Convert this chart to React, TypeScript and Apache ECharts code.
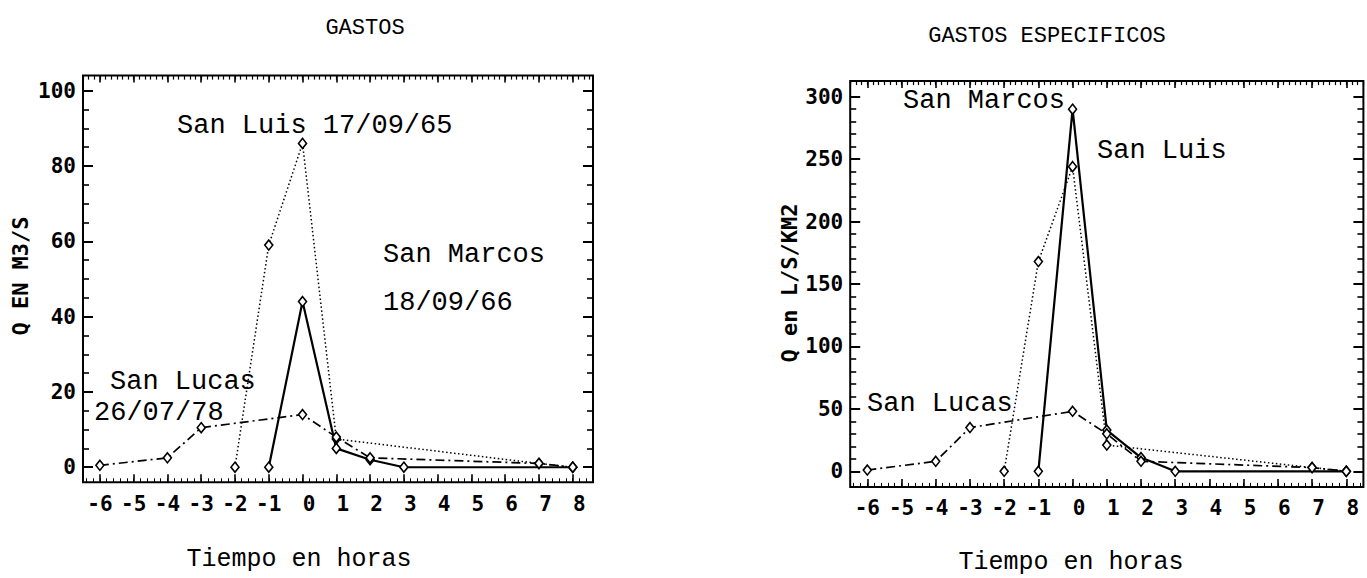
import { useEffect, useRef } from "react";
import * as echarts from "echarts";

// ---- data ----
const hours = [-6, -5, -4, -3, -2, -1, 0, 1, 2, 3, 4, 5, 6, 7, 8];
const qTicks = [0, 20, 40, 60, 80, 100];
const qsTicks = [0, 50, 100, 150, 200, 250, 300];

// GASTOS (m3/s)  [hora, Q]
const sanLuisQ = [[-2, 0], [-1, 59], [0, 86], [1, 7.5], [7, 1], [8, 0]];
const sanMarcosQ = [[-1, 0], [0, 44], [1, 5], [2, 2], [3, 0], [8, 0]];
const sanLucasQ = [[-6, 0.5], [-4, 2.5], [-3, 10.5], [0, 14], [1, 8], [2, 2.5], [7, 1], [8, 0]];

// GASTOS ESPECIFICOS (L/S/KM2)
const sanLuisQs = [[-2, 0], [-1, 168], [0, 244], [1, 21], [7, 3], [8, 0]];
const sanMarcosQs = [[-1, 0], [0, 290], [1, 33], [2, 11], [3, 0], [8, 0]];
const sanLucasQs = [[-6, 1], [-4, 8], [-3, 35], [0, 48], [1, 30], [2, 8], [7, 3], [8, 0]];

function steps(from: number, to: number, step: number) {
  const out: number[] = [];
  const n = Math.round((to - from) / step);
  for (let k = 0; k <= n; k++) out.push(Math.round((from + k * step) * 1000) / 1000);
  return out;
}

const MONO_B = "DejaVu Sans Mono";
const TXT = "Liberation Mono";
const TICK_FS = 21;

function tick(values: number[], length: number, width: number) {
  return {
    show: true,
    inside: true,
    length,
    customValues: values,
    lineStyle: { color: "#000", width },
  };
}

function xAxesFor(grid: number, min: number, max: number) {
  const base = {
    type: "value",
    gridIndex: grid,
    min,
    max,
    axisLine: { show: false, onZero: false },
    splitLine: { show: false },
  };
  return [
    {
      ...base,
      position: "bottom",
      axisTick: tick(hours, 8, 1.6),
      axisLabel: {
        show: true,
        customValues: hours,
        margin: 11,
        color: "#000",
        fontFamily: MONO_B,
        fontWeight: "bold",
        fontSize: TICK_FS,
        formatter: (v: number) => (v < 0 ? `${v}` : `{p|${v}}`),
        rich: {
          p: {
            padding: [0, 0, 0, 13],
            color: "#000",
            fontFamily: MONO_B,
            fontWeight: "bold",
            fontSize: TICK_FS,
          },
        },
      },
    },
    { ...base, position: "bottom", axisTick: tick(steps(-6.4, max, 0.2), 4, 1), axisLabel: { show: false } },
    { ...base, position: "top", axisTick: tick(hours, 7, 1.6), axisLabel: { show: false } },
    { ...base, position: "top", axisTick: tick(steps(-6.5, 8.5, 1 / 6), 4, 1.2), axisLabel: { show: false } },
  ];
}

function yAxesFor(grid: number, min: number, max: number, majors: number[], minorStep: number) {
  const base = {
    type: "value",
    gridIndex: grid,
    min,
    max,
    axisLine: { show: false, onZero: false },
    splitLine: { show: false },
  };
  const minors = steps(0, majors[majors.length - 1], minorStep);
  return [
    {
      ...base,
      position: "left",
      axisTick: tick(majors, 10, 2),
      axisLabel: {
        show: true,
        customValues: majors,
        margin: 7,
        color: "#000",
        fontFamily: MONO_B,
        fontWeight: "bold",
        fontSize: TICK_FS,
      },
    },
    { ...base, position: "left", axisTick: tick(minors, 6, 1.6), axisLabel: { show: false } },
    { ...base, position: "right", axisTick: tick(majors, 10, 2), axisLabel: { show: false } },
    { ...base, position: "right", axisTick: tick(minors, 6, 1.6), axisLabel: { show: false } },
  ];
}

function lineSeries(name: string, data: number[][], xi: number, yi: number, kind: string) {
  const lineStyle: any = { color: "#000" };
  if (kind === "dotted") {
    lineStyle.width = 1.5;
    lineStyle.type = [1.5, 2.5];
  } else if (kind === "solid") {
    lineStyle.width = 2.2;
    lineStyle.type = "solid";
  } else {
    lineStyle.width = 1.7;
    lineStyle.type = [9, 4, 2, 4];
  }
  return {
    name,
    type: "line",
    xAxisIndex: xi,
    yAxisIndex: yi,
    data,
    symbol: "diamond",
    symbolSize: [8, 10],
    showSymbol: true,
    itemStyle: { color: "#fff", borderColor: "#000", borderWidth: 1.6 },
    lineStyle,
    z: 3,
  };
}

function txt(text: string, x: number, y: number, size: number, align = "left", extra: any = {}) {
  const { fontFamily, fontWeight, ...rest } = extra;
  return {
    type: "text",
    x,
    y,
    z: 10,
    ...rest,
    style: {
      text,
      fontFamily: fontFamily || TXT,
      fontWeight: fontWeight || "normal",
      fontSize: size,
      fill: "#000",
      textAlign: align,
      textVerticalAlign: "middle",
    },
  };
}

export default function App() {
  const ref = useRef<HTMLDivElement>(null);
  useEffect(() => {
    if (!ref.current) return;
    const chart = echarts.init(ref.current, undefined, { renderer: "svg" });
    const option: any = {
      animation: false,
      backgroundColor: "#fff",
      grid: [
        { left: 83, top: 75.6, width: 510, height: 406.7, show: true, borderColor: "#000", borderWidth: 2, backgroundColor: "transparent" },
        { left: 850.2, top: 81.1, width: 513.2, height: 405.8, show: true, borderColor: "#000", borderWidth: 2, backgroundColor: "transparent" },
      ],
      xAxis: [...xAxesFor(0, -6.5, 8.6), ...xAxesFor(1, -6.5, 8.5)],
      yAxis: [...yAxesFor(0, -4, 104, qTicks, 5), ...yAxesFor(1, -12.5, 312.5, qsTicks, 10)],
      series: [
        lineSeries("San Luis", sanLuisQ, 0, 0, "dotted"),
        lineSeries("San Marcos", sanMarcosQ, 0, 0, "solid"),
        lineSeries("San Lucas", sanLucasQ, 0, 0, "dashdot"),
        lineSeries("San Luis", sanLuisQs, 4, 4, "dotted"),
        lineSeries("San Marcos", sanMarcosQs, 4, 4, "solid"),
        lineSeries("San Lucas", sanLucasQs, 4, 4, "dashdot"),
      ],
      graphic: [
        txt("GASTOS", 365, 28, 22, "center"),
        txt("GASTOS ESPECIFICOS", 1047, 36, 22, "center"),
        txt("Tiempo en horas", 299, 559, 25, "center"),
        txt("Tiempo en horas", 1071, 562, 25, "center"),
        txt("Q EN M3/S", 20, 276, 22, "center", { rotation: Math.PI / 2, fontFamily: MONO_B, fontWeight: "bold" }),
        txt("Q en L/S/KM2", 789, 283, 22, "center", { rotation: Math.PI / 2, fontFamily: MONO_B, fontWeight: "bold" }),
        txt("San Luis 17/09/65", 177, 126, 27),
        txt("San Marcos", 383, 255, 27),
        txt("18/09/66", 383, 303, 27),
        txt("San Lucas", 110, 382, 27),
        txt("26/07/78", 94, 413, 27),
        txt("San Marcos", 903, 101, 27),
        txt("San Luis", 1097, 151, 27),
        txt("San Lucas", 867, 404, 27),
      ],
    };
    chart.setOption(option);
    return () => chart.dispose();
  }, []);
  return (
    <div
      ref={ref}
      style={{ position: "absolute", left: 0, top: 0, width: 1367, height: 578, background: "#fff" }}
    />
  );
}
